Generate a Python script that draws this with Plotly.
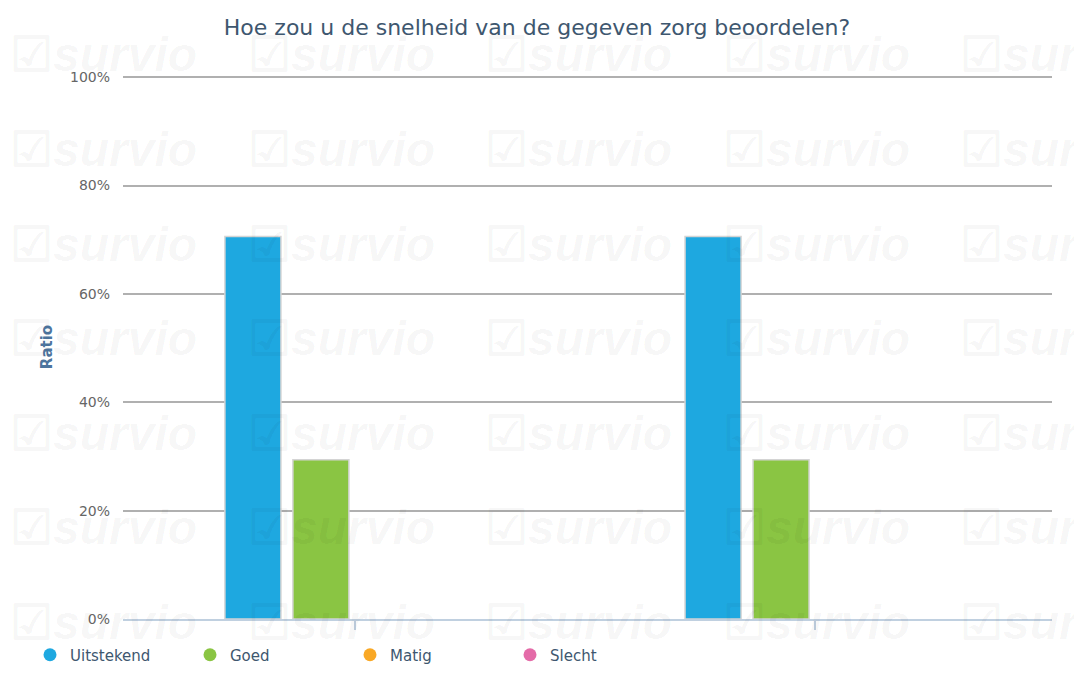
import plotly.graph_objects as go

# ---- data ----
categories = ["Vraag 1", "Vraag 2"]
series_names = ["Uitstekend", "Goed", "Matig", "Slecht"]
uitstekend = [70.59, 70.59]
goed = [29.41, 29.41]
matig = [0, 0]
slecht = [0, 0]
colors = ["#1EA8E0", "#8AC543", "#F9A825", "#E46BA8"]
y_ticks = [0, 20, 40, 60, 80, 100]
title_text = "Hoe zou u de snelheid van de gegeven zorg beoordelen?"
y_title = "Ratio"

series_values = [uitstekend, goed, matig, slecht]

fig = go.Figure()

# bars (legend drawn separately with circle markers)
for name, vals, col in zip(series_names, series_values, colors):
    fig.add_trace(go.Bar(
        x=categories, y=vals, name=name,
        marker=dict(color=col,
                    line=dict(color="#d4d4d4", width=[1.5 if v > 0 else 0 for v in vals])),
        showlegend=False, hoverinfo="x+y+name",
    ))

# legend entries with circular symbols
for name, col in zip(series_names, colors):
    fig.add_trace(go.Scatter(
        x=[None], y=[None], mode="markers", name=name,
        marker=dict(color=col, size=13, symbol="circle"),
        showlegend=True,
    ))

# faint tiled watermark
annotations = []
col_x = [8 + 237.5 * i for i in range(5)]
row_y = [55 + 94.5 * j for j in range(8)]
W, H = 1074, 696
L, R, T, B = 123, 22, 75, 77
pw, ph = W - L - R, H - T - B
for cy in row_y:
    for cx in col_x:
        annotations.append(dict(
            xref="paper", yref="paper",
            x=(cx - L) / pw, y=(H - B - cy) / ph,
            xanchor="left", yanchor="middle",
            text="<b>☑</b><i><b>survio</b></i>", showarrow=False,
            font=dict(family="Liberation Sans", size=48, color="rgba(0,0,0,0.04)"),
        ))

fig.update_layout(
    width=W, height=H,
    margin=dict(l=L, r=R, t=T, b=B),
    paper_bgcolor="white", plot_bgcolor="white",
    barmode="group", bargap=0.409, bargroupgap=0.176,
    font=dict(family="DejaVu Sans", color="#666666"),
    title=dict(text=title_text, x=0.5, xanchor="center", y=1 - 27 / H, yanchor="middle",
               font=dict(family="DejaVu Sans", size=22, color="#3E576F")),
    legend=dict(orientation="h", x=(30 - L) / pw, xanchor="left", y=-36 / ph, yanchor="middle",
                entrywidth=115, entrywidthmode="pixels",
                font=dict(family="DejaVu Sans", size=15, color="#3E576F"),
                itemclick=False, bgcolor="rgba(0,0,0,0)"),
    annotations=annotations,
    xaxis=dict(
        type="category", range=[-0.504, 1.515], showticklabels=False,
        ticks="outside", ticklen=9, tickwidth=2, tickcolor="#C0D0E0",
        showline=True, linecolor="#C0D0E0", linewidth=2, showgrid=False, zeroline=False,
    ),
    yaxis=dict(
        range=[0, 100.4], tickvals=y_ticks, ticktext=[f"{v}%" for v in y_ticks],
        showgrid=True, gridcolor="#B0B0B0", gridwidth=2, zeroline=False, showline=False,
        ticklabelstandoff=12,
        tickfont=dict(family="DejaVu Sans", size=14, color="#666666"),
        title=dict(text=f"<b>{y_title}</b>", standoff=13,
                   font=dict(family="DejaVu Sans", size=15, color="#4D759E")),
    ),
)

fig.write_html("out.html", config={"displayModeBar": False},
               post_script="document.body.style.margin='0';")
